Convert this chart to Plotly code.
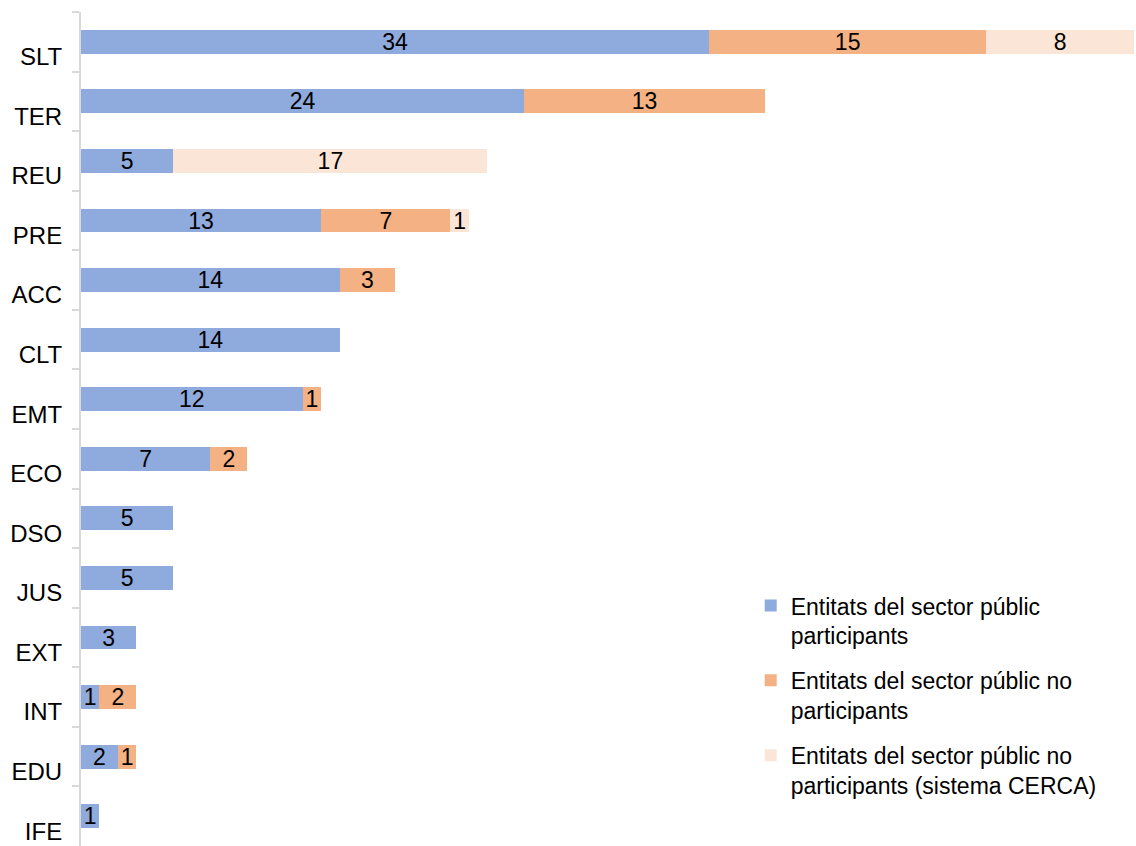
import plotly.graph_objects as go

categories = ["SLT", "TER", "REU", "PRE", "ACC", "CLT", "EMT", "ECO", "DSO", "JUS", "EXT", "INT", "EDU", "IFE"]
participants = [34, 24, 5, 13, 14, 14, 12, 7, 5, 5, 3, 1, 2, 1]
no_participants = [15, 13, None, 7, 3, None, 1, 2, None, None, None, 2, 1, None]
no_participants_cerca = [8, None, 17, 1, None, None, None, None, None, None, None, None, None, None]

series_names = [
    "Entitats del sector públic<br>participants",
    "Entitats del sector públic no<br>participants",
    "Entitats del sector públic no<br>participants (sistema CERCA)",
]
colors = ["#8faadc", "#f4b183", "#fbe5d6"]

fig = go.Figure()
for i, (vals, name, col) in enumerate(zip([participants, no_participants, no_participants_cerca], series_names, colors)):
    fig.add_trace(go.Bar(
        y=categories, x=vals, name=name, orientation="h",
        marker=dict(color=col, line=dict(width=0)),
        text=[("" if v is None else str(v)) for v in vals],
        textposition="inside", insidetextanchor="middle",
        textangle=0, constraintext="none",
        textfont=dict(color="black", size=23, family="Liberation Sans"),
        legendgroup=f"g{i}",
        width=0.4,
    ))

fig.update_layout(
    barmode="stack",
    width=1136, height=846,
    margin=dict(l=81, r=2, t=12, b=0, autoexpand=False),
    paper_bgcolor="white", plot_bgcolor="white",
    font=dict(family="Liberation Sans", color="black"),
    showlegend=True,
    legend=dict(
        x=0.636, y=0.314, xanchor="left", yanchor="top",
        font=dict(size=23, family="Liberation Sans"),
        valign="top", tracegroupgap=12, traceorder="grouped",
        bgcolor="rgba(0,0,0,0)",
    ),
    xaxis=dict(range=[0, 57], visible=False, fixedrange=True, automargin=False),
    yaxis=dict(
        autorange="reversed", type="category", automargin=False, fixedrange=True,
        showline=True, linecolor="#d9d9d9", linewidth=2,
        ticks="outside", tickson="boundaries", ticklen=7, tickcolor="#d9d9d9", tickwidth=2,
        tickfont=dict(size=24, family="Liberation Sans", color="black"),
        ticklabelshift=-15, ticklabelstandoff=12,
        showgrid=False,
    ),
)

fig.write_html(
    "out.html",
    config={"displayModeBar": False},
    post_script="document.body.style.margin='0px';document.body.style.overflow='hidden';",
)
